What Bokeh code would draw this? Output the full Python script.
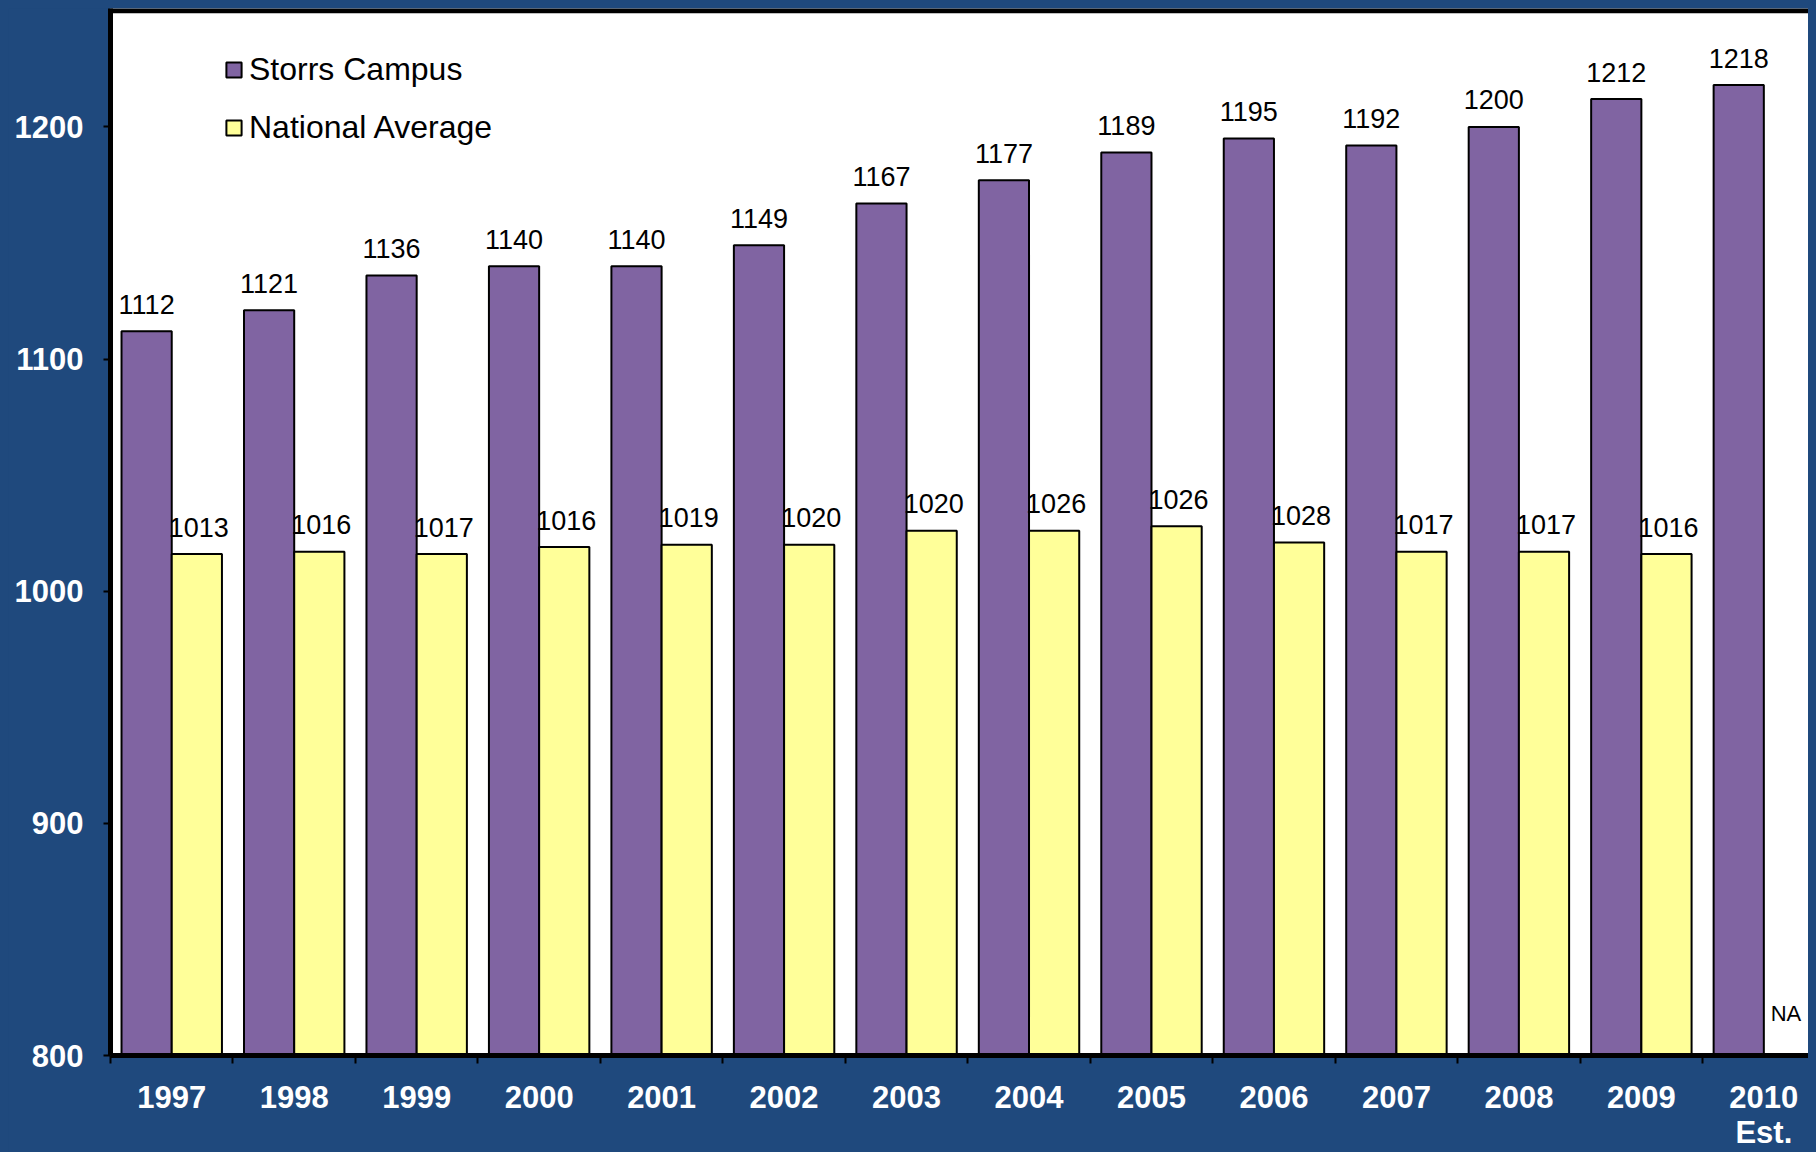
from bokeh.plotting import figure
from bokeh.models import ColumnDataSource, Range1d, FixedTicker, Span
from bokeh.transform import dodge
from bokeh.core.properties import value
from bokeh.embed import file_html
from bokeh.resources import INLINE

# ---- data ----
years = ["1997", "1998", "1999", "2000", "2001", "2002", "2003",
         "2004", "2005", "2006", "2007", "2008", "2009", "2010\nEst."]
storrs = [1112, 1121, 1136, 1140, 1140, 1149, 1167, 1177, 1189, 1195, 1192, 1200, 1212, 1218]
storrs_labels = ["1112", "1121", "1136", "1140", "1140", "1149", "1167",
                 "1177", "1189", "1195", "1192", "1200", "1212", "1218"]
national = [1016, 1017, 1016, 1019, 1020, 1020, 1026, 1026, 1028, 1021, 1017, 1017, 1016, None]
national_labels = ["1013", "1016", "1017", "1016", "1019", "1020", "1020",
                   "1026", "1026", "1028", "1017", "1017", "1016", "NA"]
y_ticks = [800, 900, 1000, 1100, 1200]

BLUE = "#1F497D"
PURPLE = "#8064A2"
YELLOW = "#FFFF99"
FONT = "Liberation Sans"

n = len(years)
xs = [i + 0.5 for i in range(n)]

src = ColumnDataSource(dict(x=xs, storrs=storrs, slbl=storrs_labels))
nat_ok = [i for i in range(n) if national[i] is not None]
nat_src = ColumnDataSource(dict(x=[xs[i] for i in nat_ok], nat=[national[i] for i in nat_ok],
                                nlbl=[national_labels[i] for i in nat_ok]))
na_idx = [i for i in range(n) if national[i] is None]
na_src = ColumnDataSource(dict(x=[xs[i] for i in na_idx], y=[y_ticks[0]] * len(na_idx),
                               t=[national_labels[i] for i in na_idx]))

p = figure(width=1808, height=1144, output_backend="svg", toolbar_location=None,
           x_range=Range1d(0, 13.93), y_range=Range1d(800, 1251),
           min_border_left=102, min_border_right=0, min_border_top=0, min_border_bottom=95)
p.background_fill_color = "white"
p.border_fill_color = BLUE
p.outline_line_color = None
p.xgrid.grid_line_color = None
p.ygrid.grid_line_color = None

W = 0.41
OFF = 0.205
p.vbar(x=dodge("x", -OFF), top="storrs", bottom=800, width=W, source=src,
       fill_color=PURPLE, line_color="black", line_width=2, legend_label="Storrs Campus")
p.vbar(x=dodge("x", OFF), top="nat", bottom=800, width=W, source=nat_src,
       fill_color=YELLOW, line_color="black", line_width=2, legend_label="National Average")

p.text(x=dodge("x", -OFF), y="storrs", text="slbl", source=src,
       text_align="center", text_baseline="alphabetic", y_offset=-27,
       text_font=value(FONT), text_font_size="27px", text_color="black")
p.text(x=dodge("x", OFF), y="nat", text="nlbl", source=nat_src,
       text_align="center", text_baseline="alphabetic", y_offset=-27, x_offset=2,
       text_font=value(FONT), text_font_size="27px", text_color="black")
p.text(x=dodge("x", OFF), y="y", text="t", source=na_src,
       text_align="center", text_baseline="alphabetic", y_offset=-42, x_offset=-3,
       text_font=value(FONT), text_font_size="22px", text_color="black")

# top border line
p.add_layout(Span(location=1250, dimension="width", line_color="black", line_width=5))

# x axis
xa = p.xaxis[0]
xa.ticker = FixedTicker(ticks=xs, minor_ticks=list(range(n + 1)))
xa.major_label_overrides = {x: y for x, y in zip(xs, years)}
xa.major_tick_line_color = None
xa.major_tick_out = 8
xa.major_tick_in = 0
xa.minor_tick_line_color = "black"
xa.minor_tick_line_width = 2
xa.minor_tick_out = 8
xa.minor_tick_in = 0
xa.axis_line_color = "black"
xa.axis_line_width = 5
xa.major_label_standoff = 16
xa.major_label_text_color = "white"
xa.major_label_text_font = FONT
xa.major_label_text_font_style = "bold"
xa.major_label_text_font_size = "31px"
xa.major_label_text_line_height = 1.0

# y axis
ya = p.yaxis[0]
ya.ticker = FixedTicker(ticks=y_ticks, minor_ticks=[])
ya.major_tick_line_color = "black"
ya.major_tick_line_width = 2
ya.major_tick_out = 7
ya.major_tick_in = 0
ya.minor_tick_line_color = None
ya.axis_line_color = "black"
ya.axis_line_width = 5
ya.major_label_standoff = 20
ya.major_label_text_color = "white"
ya.major_label_text_font = FONT
ya.major_label_text_font_style = "bold"
ya.major_label_text_font_size = "31px"

# legend
lg = p.legend[0]
lg.location = (114, 909)
lg.background_fill_alpha = 0
lg.border_line_color = None
lg.padding = 0
lg.margin = 0
lg.spacing = 21
lg.glyph_width = 19
lg.glyph_height = 19
lg.label_height = 36
lg.label_standoff = 6
lg.label_text_font = FONT
lg.label_text_font_size = "32px"
lg.label_text_color = "black"
lg.label_text_baseline = "middle"

html = file_html(p, INLINE)
css = ("<style>html, body { margin: 0 !important; padding: 0 !important; height: auto !important; "
       "overflow: hidden !important; background-color: %s !important; } "
       "body { margin: 8px !important; }</style>" % BLUE)
html = html.replace("</head>", css + "</head>", 1)
open("out.html", "w").write(html)
